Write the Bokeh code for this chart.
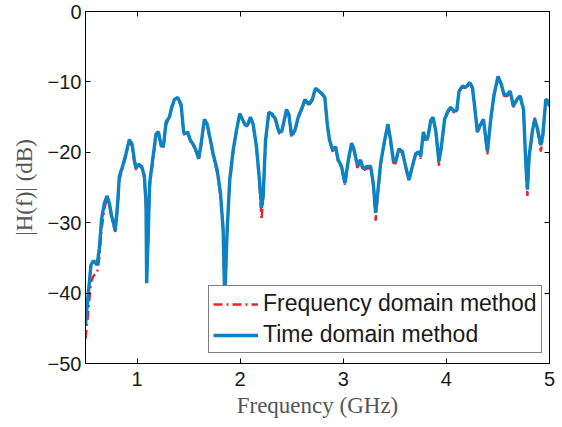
from bokeh.plotting import figure
from bokeh.models import (Range1d, FixedTicker, LinearAxis, CustomJSTickFormatter,
                          Legend, LegendItem)
from bokeh.embed import file_html
from bokeh.resources import INLINE

freq_ghz = [
    0.500, 0.520, 0.553, 0.579, 0.612, 0.634, 0.656, 0.683, 0.709, 0.731,
    0.753, 0.789, 0.812, 0.828, 0.860, 0.893, 0.925, 0.951, 0.974, 0.990,
    1.013, 1.045, 1.071, 1.087, 1.093, 1.110, 1.122, 1.151, 1.184, 1.207,
    1.233, 1.255, 1.282, 1.314, 1.336, 1.362, 1.394, 1.427, 1.452, 1.469,
    1.491, 1.517, 1.550, 1.576, 1.598, 1.621, 1.653, 1.680, 1.712, 1.744,
    1.777, 1.809, 1.835, 1.850, 1.874, 1.899, 1.932, 1.964, 1.996, 2.029,
    2.051, 2.074, 2.100, 2.126, 2.158, 2.187, 2.207, 2.223, 2.246, 2.278,
    2.311, 2.343, 2.375, 2.401, 2.423, 2.450, 2.472, 2.498, 2.530, 2.563,
    2.602, 2.627, 2.666, 2.699, 2.731, 2.763, 2.796, 2.821, 2.845, 2.867,
    2.899, 2.925, 2.951, 2.983, 3.016, 3.049, 3.081, 3.103, 3.136, 3.168,
    3.190, 3.233, 3.265, 3.291, 3.314, 3.337, 3.362, 3.401, 3.433, 3.459,
    3.485, 3.508, 3.540, 3.573, 3.605, 3.637, 3.670, 3.702, 3.734, 3.751,
    3.777, 3.799, 3.821, 3.848, 3.870, 3.897, 3.928, 3.951, 3.983, 4.016,
    4.042, 4.068, 4.100, 4.123, 4.155, 4.188, 4.226, 4.253, 4.275, 4.301,
    4.326, 4.359, 4.398, 4.430, 4.462, 4.501, 4.534, 4.559, 4.592, 4.618,
    4.650, 4.683, 4.715, 4.748, 4.770, 4.786, 4.802, 4.835, 4.857, 4.884,
    4.916, 4.935, 4.964, 4.987, 5.000,
]

time_domain_db = [
    -44.5, -41.2, -36.0, -35.4, -36.0, -33.7, -29.5, -27.2, -26.2, -27.2,
    -29.0, -31.1, -27.2, -23.4, -22.0, -20.2, -18.2, -18.8, -21.1, -22.3,
    -21.7, -22.0, -23.4, -27.2, -38.6, -30.9, -24.4, -21.1, -17.4, -17.1,
    -19.0, -19.2, -15.7, -15.0, -13.6, -12.5, -12.2, -13.2, -17.1, -17.4,
    -17.1, -18.3, -19.0, -19.9, -20.9, -18.8, -15.3, -16.0, -18.3, -20.6,
    -22.5, -25.8, -30.9, -41.0, -30.9, -23.9, -19.7, -16.9, -14.5, -15.5,
    -16.2, -16.0, -15.0, -16.0, -19.2, -23.9, -27.9, -26.2, -18.3, -14.3,
    -14.6, -15.3, -17.1, -17.1, -15.7, -13.9, -14.6, -17.6, -16.9, -15.0,
    -13.6, -12.5, -13.2, -12.5, -10.9, -11.3, -11.7, -12.2, -16.0, -18.3,
    -19.7, -19.2, -21.1, -22.0, -24.4, -21.1, -18.7, -19.5, -21.8, -21.1,
    -22.3, -22.0, -22.0, -24.4, -28.6, -25.3, -21.6, -18.3, -16.0, -18.3,
    -21.1, -21.3, -19.5, -19.9, -22.0, -23.9, -22.0, -20.2, -19.9, -20.6,
    -17.1, -18.3, -17.8, -15.5, -15.0, -16.9, -21.3, -19.2, -15.3, -14.1,
    -13.6, -14.1, -14.1, -11.3, -10.6, -10.8, -10.1, -10.8, -13.6, -17.1,
    -16.2, -15.3, -19.9, -15.3, -11.8, -9.2, -10.4, -11.8, -11.8, -11.3,
    -13.4, -12.5, -12.0, -13.9, -21.6, -25.3, -20.6, -16.9, -15.3, -16.7,
    -19.0, -17.6, -12.5, -12.7, -13.4,
]

freq_domain_db = [
    -46.5, -43.8, -38.5, -37.5, -37.2, -35.0, -31.0, -28.0, -26.6, -27.5,
    -29.4, -31.3, -28.0, -24.0, -22.3, -20.5, -18.4, -19.2, -21.6, -22.5,
    -21.8, -22.2, -23.8, -28.0, -38.2, -31.5, -25.0, -21.6, -17.7, -17.3,
    -19.2, -19.5, -16.0, -15.2, -13.8, -12.7, -12.3, -13.5, -17.4, -17.6,
    -17.3, -18.5, -19.2, -20.1, -21.0, -19.1, -15.5, -16.2, -18.6, -21.0,
    -22.9, -26.2, -31.5, -41.5, -31.4, -24.3, -20.0, -17.1, -14.7, -15.7,
    -16.4, -16.2, -15.2, -16.2, -19.5, -24.4, -29.6, -26.8, -18.6, -14.5,
    -14.8, -15.5, -17.3, -17.3, -15.9, -14.1, -14.8, -17.9, -17.1, -15.2,
    -13.8, -12.7, -13.4, -12.7, -11.0, -11.2, -11.9, -12.3, -16.2, -18.5,
    -20.0, -19.4, -21.4, -22.2, -24.6, -21.3, -18.9, -19.8, -22.2, -21.4,
    -22.6, -22.3, -22.2, -24.8, -29.7, -25.8, -21.9, -18.5, -16.2, -18.6,
    -21.5, -21.6, -19.7, -20.1, -22.2, -24.1, -22.2, -20.4, -20.1, -20.9,
    -17.3, -18.5, -18.1, -15.7, -15.2, -17.1, -21.9, -19.5, -15.5, -14.3,
    -13.8, -14.3, -14.4, -11.5, -10.7, -11.0, -10.3, -11.0, -13.8, -17.3,
    -16.4, -15.5, -20.3, -15.5, -12.0, -9.3, -10.6, -12.0, -12.0, -11.5,
    -13.6, -12.7, -12.2, -14.1, -22.0, -26.2, -20.9, -17.1, -15.1, -16.9,
    -19.9, -18.0, -12.4, -12.9, -13.5,
]

x_ticks = [1, 2, 3, 4, 5]
y_ticks = [-50, -40, -30, -20, -10, 0]
series_labels = ["Frequency domain method", "Time domain method"]

p = figure(width=562, height=427, frame_width=464, frame_height=352,
           output_backend="svg", toolbar_location=None,
           x_range=Range1d(0.5, 5.0), y_range=Range1d(-50, 0),
           min_border_left=85, min_border_right=13, min_border_top=11,
           min_border_bottom=64)
p.background_fill_color = "white"
p.border_fill_color = "white"
p.outline_line_color = "black"
p.outline_line_width = 1
p.xgrid.visible = False
p.ygrid.visible = False

red = p.line(freq_ghz, freq_domain_db, line_color="#E8252B", line_width=2.4,
             line_dash="9 4 2 4")
blue = p.line(freq_ghz, time_domain_db, line_color="#0A82C4", line_width=3.4)

def style_axis(ax):
    ax.major_tick_in = 5
    ax.major_tick_out = 0
    ax.minor_tick_line_color = None
    ax.axis_line_color = "black"
    ax.major_tick_line_color = "black"
    ax.major_label_text_font = "Liberation Sans"
    ax.major_label_text_font_size = "20px"
    ax.major_label_text_color = "#1a1a1a"
    ax.axis_label_text_font = "Liberation Serif"
    ax.axis_label_text_font_size = "23px"
    ax.axis_label_text_font_style = "normal"
    ax.axis_label_text_color = "#555555"

xa = p.xaxis[0]
ya = p.yaxis[0]
xa.ticker = FixedTicker(ticks=x_ticks)
ya.ticker = FixedTicker(ticks=y_ticks)
style_axis(xa)
style_axis(ya)
xa.axis_label = "Frequency (GHz)"
ya.axis_label = "|H(f)| (dB)"
xa.major_label_standoff = 8
xa.axis_label_standoff = 4
ya.major_label_standoff = 4
ya.axis_label_standoff = 8

blank = CustomJSTickFormatter(code="return '';")
top = LinearAxis(ticker=FixedTicker(ticks=x_ticks), formatter=blank)
right = LinearAxis(ticker=FixedTicker(ticks=y_ticks), formatter=blank)
for ax in (top, right):
    style_axis(ax)
    ax.major_label_text_font_size = "0px"
    ax.major_label_standoff = 0
p.add_layout(top, "above")
p.add_layout(right, "right")

legend = Legend(items=[LegendItem(label=series_labels[0], renderers=[red]),
                       LegendItem(label=series_labels[1], renderers=[blue])],
                location=(123, 10))
legend.label_text_font = "Liberation Sans"
legend.label_text_font_size = "23px"
legend.label_text_color = "#1a1a1a"
legend.border_line_color = "black"
legend.border_line_width = 1
legend.background_fill_color = "white"
legend.background_fill_alpha = 1
legend.glyph_width = 45
legend.glyph_height = 26
legend.label_height = 26
legend.label_standoff = 5
legend.padding = 4
legend.spacing = 4
legend.margin = 0
p.add_layout(legend, "center")

open("out.html", "w").write(file_html(p, INLINE))
